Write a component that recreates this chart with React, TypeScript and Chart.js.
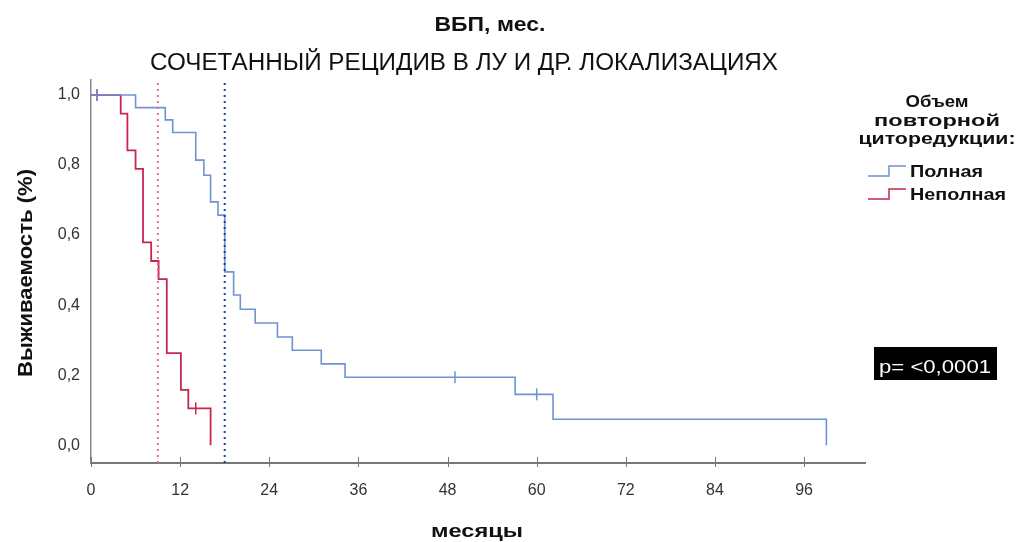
import React, { useEffect, useRef } from "react";
import { Chart, registerables } from "chart.js";

Chart.register(...registerables);

// Kaplan–Meier data (months, survival)
const fullTimes = [0, 6, 10, 11, 14.1, 15.2, 16.1, 17.1, 18, 19.2, 20.1, 22.1, 25.1, 27.1, 31, 34.2, 57.1, 62.2, 99];
const fullSurv = [1, 0.964, 0.929, 0.893, 0.814, 0.771, 0.695, 0.657, 0.495, 0.429, 0.388, 0.349, 0.309, 0.271, 0.232, 0.194, 0.145, 0.074, 0];
const fullCensorTimes = [0.8, 49, 60];
const fullCensorSurv = [1, 0.194, 0.145];

const partTimes = [0, 4, 4.9, 6, 7, 8.1, 9.1, 10.2, 12.1, 13.1, 16.1];
const partSurv = [1, 0.947, 0.842, 0.789, 0.579, 0.526, 0.474, 0.263, 0.158, 0.105, 0];
const partCensorTimes = [0.8, 14.1];
const partCensorSurv = [1, 0.105];

const medianFull = 18;
const medianPart = 9;

const xTicks = [0, 12, 24, 36, 48, 60, 72, 84, 96];
const yTicks = [0, 0.2, 0.4, 0.6, 0.8, 1.0];
const X_MIN = 0;
const X_MAX = 104.2;
const Y_MIN = -0.051;
const Y_MAX = 1.043;

const seriesNames = ["Полная", "Неполная"];
const titleLine1 = "ВБП, мес.";
const titleLine2 = "СОЧЕТАННЫЙ РЕЦИДИВ В ЛУ И ДР. ЛОКАЛИЗАЦИЯХ";
const legendTitle = ["Объем", "повторной", "циторедукции:"];
const yTitle = "Выживаемость (%)";
const xTitle = "месяцы";
const pText = "p= <0,0001";

const BLUE = "#6f93d2";
const RED = "#c8264f";
const BLUE_DOT = "#1d3f9e";
const RED_DOT = "#e0708c";

const pts = (xs: number[], ys: number[]) => xs.map((x, i) => ({ x, y: ys[i] }));

function fitText(ctx: CanvasRenderingContext2D, text: string, x: number, y: number, font: string, width: number, align: CanvasTextAlign, color: string) {
  ctx.save();
  ctx.font = font;
  const w = ctx.measureText(text).width;
  const sx = width / w;
  ctx.translate(x, y);
  ctx.scale(sx, 1);
  ctx.textAlign = align;
  ctx.textBaseline = "alphabetic";
  ctx.fillStyle = color;
  ctx.fillText(text, 0, 0);
  ctx.restore();
}

const decorPlugin = {
  id: "decor",
  afterDraw(chart: any) {
    const ctx: CanvasRenderingContext2D = chart.ctx;
    const xs = chart.scales.x;
    const F = '"Liberation Sans", Arial, sans-serif';
    // x tick marks
    ctx.save();
    ctx.strokeStyle = "#777";
    ctx.lineWidth = 1;
    const by = chart.chartArea.bottom;
    xTicks.forEach((t) => {
      const px = Math.round(xs.getPixelForValue(t)) + 0.5;
      ctx.beginPath();
      ctx.moveTo(px, by - 6);
      ctx.lineTo(px, by + 4);
      ctx.stroke();
    });
    ctx.restore();

    // titles
    fitText(ctx, titleLine1, 490, 31, "bold 20px " + F, 111, "center", "#111");
    fitText(ctx, titleLine2, 464, 70, "23px " + F, 628, "center", "#111");
    fitText(ctx, xTitle, 477, 537, "bold 19px " + F, 92, "center", "#111");
    ctx.save();
    ctx.translate(32, 273);
    ctx.rotate(-Math.PI / 2);
    fitText(ctx, yTitle, 0, 0, "bold 20px " + F, 208, "center", "#111");
    ctx.restore();

    // legend
    const lb = [107, 126, 144];
    const lw = [63, 126, 157];
    legendTitle.forEach((t, i) => fitText(ctx, t, 937, lb[i], "bold 17px " + F, lw[i], "center", "#111"));
    const entryBase = [177, 200];
    const colors = [BLUE, RED];
    ctx.save();
    ctx.font = "bold 16px " + F;
    const wLong = ctx.measureText(seriesNames[1]).width;
    ctx.restore();
    const sc = 96 / wLong;
    seriesNames.forEach((n, i) => {
      const b = entryBase[i];
      ctx.save();
      ctx.strokeStyle = colors[i];
      ctx.lineWidth = 1.5;
      ctx.beginPath();
      ctx.moveTo(868, b - 1);
      ctx.lineTo(889, b - 1);
      ctx.lineTo(889, b - 11);
      ctx.lineTo(906, b - 11);
      ctx.stroke();
      ctx.restore();
      ctx.save();
      ctx.font = "bold 16px " + F;
      const w = ctx.measureText(n).width;
      ctx.restore();
      fitText(ctx, n, 910, b, "bold 16px " + F, w * sc, "left", "#111");
    });

    // p-value box
    ctx.save();
    ctx.fillStyle = "#000";
    ctx.fillRect(874, 347, 123, 33);
    ctx.restore();
    fitText(ctx, pText, 935, 373, "19px " + F, 112, "center", "#fff");
  },
};

export default function App() {
  const ref = useRef<HTMLCanvasElement>(null);
  useEffect(() => {
    if (!ref.current) return;
    const tickFont = { family: '"Liberation Sans Narrow", "Liberation Sans", Arial, sans-serif', size: 16 };
    const chart = new Chart(ref.current, {
      type: "line",
      data: {
        datasets: [
          {
            label: "medianPart",
            data: [{ x: medianPart, y: Y_MIN }, { x: medianPart, y: Y_MAX }],
            borderColor: RED_DOT,
            borderWidth: 2,
            borderDash: [2, 4],
            pointRadius: 0,
          },
          {
            label: "medianFull",
            data: [{ x: medianFull, y: Y_MIN }, { x: medianFull, y: Y_MAX }],
            borderColor: BLUE_DOT,
            borderWidth: 2,
            borderDash: [2, 4],
            pointRadius: 0,
          },
          {
            label: seriesNames[0],
            data: pts(fullTimes, fullSurv),
            borderColor: BLUE,
            borderWidth: 1.6,
            stepped: "before",
            pointRadius: 0,
          },
          {
            label: seriesNames[1],
            data: pts(partTimes, partSurv),
            borderColor: RED,
            borderWidth: 1.8,
            stepped: "before",
            pointRadius: 0,
          },
          {
            label: "censorFull",
            data: pts(fullCensorTimes, fullCensorSurv),
            showLine: false,
            pointStyle: "line",
            rotation: 90,
            pointRadius: 6,
            borderColor: BLUE,
            borderWidth: 1.5,
          },
          {
            label: "censorPart",
            data: pts(partCensorTimes, partCensorSurv),
            showLine: false,
            pointStyle: "line",
            rotation: 90,
            pointRadius: 6,
            borderColor: RED,
            borderWidth: 1.5,
          },
        ],
      },
      options: {
        animation: false,
        responsive: false,
        events: [],
        layout: { padding: { top: 80, right: 153, left: 0, bottom: 0 } },
        plugins: { legend: { display: false }, title: { display: false }, tooltip: { enabled: false } },
        scales: {
          x: {
            type: "linear",
            min: X_MIN,
            max: X_MAX,
            afterBuildTicks: (s: any) => {
              s.ticks = xTicks.map((v) => ({ value: v }));
            },
            afterFit: (s: any) => {
              s.height = 79;
            },
            grid: { display: true, drawOnChartArea: false, drawTicks: false },
            border: { display: true, color: "#777", width: 2 },
            ticks: { padding: 18, color: "#333", font: tickFont, maxRotation: 0, autoSkip: false, callback: (v: any) => String(v) },
          },
          y: {
            type: "linear",
            min: Y_MIN,
            max: Y_MAX,
            afterBuildTicks: (s: any) => {
              s.ticks = yTicks.map((v) => ({ value: v }));
            },
            afterFit: (s: any) => {
              s.width = 91;
            },
            grid: { display: true, drawOnChartArea: false, drawTicks: false },
            border: { display: true, color: "#888", width: 1.5 },
            ticks: { padding: 11, color: "#333", font: tickFont, autoSkip: false, callback: (v: any) => Number(v).toFixed(1).replace(".", ",") },
          },
        },
      },
      plugins: [decorPlugin],
    } as any);
    return () => chart.destroy();
  }, []);
  return (
    <div style={{ position: "fixed", left: 0, top: 0, width: 1018, height: 542, background: "#fff" }}>
      <canvas ref={ref} width={1018} height={542} style={{ display: "block", width: 1018, height: 542 }} />
    </div>
  );
}
